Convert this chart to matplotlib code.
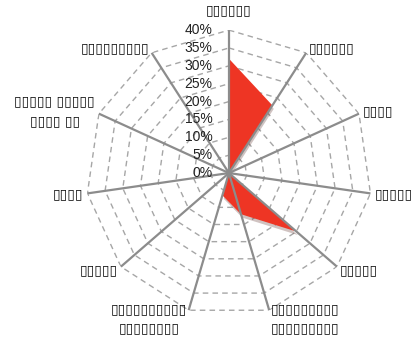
import matplotlib
matplotlib.use('Agg')
import matplotlib.pyplot as plt
import matplotlib.patheffects as pe
import numpy as np

# the category names show up only as placeholder boxes in the reference
categories = ['▯▯▯▯▯▯', '▯▯▯▯▯▯', '▯▯▯▯', '▯▯▯▯▯▯', '▯▯▯▯▯',
              '▯▯▯▯▯▯▯▯▯\n▯▯▯▯▯▯▯▯▯', '▯▯▯▯▯▯▯▯▯▯\n▯▯▯▯▯▯▯▯',
              '▯▯▯▯▯', '▯▯▯▯', '▯▯▯▯▯ ▯▯▯▯▯\n▯▯▯▯ ▯▯', '▯▯▯▯▯▯▯▯▯']
values = [32, 22.5, 0, 0, 25, 12, 6.5, 0, 0, 0, 0]
ticks = [0, 5, 10, 15, 20, 25, 30, 35, 40]
tick_labels = ['0%', '5%', '10%', '15%', '20%', '25%', '30%', '35%', '40%']

plt.rcParams['font.family'] = ['Liberation Sans', 'DejaVu Sans']

n = len(categories)
angles = np.linspace(0, 2 * np.pi, n, endpoint=False)
closed = np.append(angles, angles[0])

fig = plt.figure(figsize=(4.11, 3.38), dpi=100)
ax = fig.add_axes([0.209, 0.065, 0.696, 0.846], projection='polar')
ax.set_theta_zero_location('N')
ax.set_theta_direction(-1)
ax.set_ylim(0, ticks[-1])
ax.axis('off')

# dashed polygon grid
for t in ticks[1:]:
    ax.plot(closed, [t] * (n + 1), color='#a6a6a6', lw=1, ls=(0, (4, 3)), zorder=1)

# data area with a soft shadow
poly = ax.fill(closed, np.append(values, values[0]), color='#ee3524', lw=0, zorder=2)[0]
poly.set_path_effects([pe.SimplePatchShadow(offset=(1, -2.5), alpha=0.25), pe.Normal()])

# spokes
for a in angles:
    ax.plot([a, a], [0, ticks[-1]], color='#8c8c8c', lw=1.6, zorder=3)

# radial tick labels left of the top spoke
for t, lbl in zip(ticks, tick_labels):
    ax.annotate(lbl, xy=(0, t), xytext=(-12, 0), textcoords='offset points',
                ha='right', va='center', fontsize=10, color='#222222', zorder=4)

# category labels
for a, lbl in zip(angles, categories):
    s, c = np.sin(a), np.cos(a)
    if abs(s) < 0.1:
        ha = 'center'
    elif s > 0:
        ha = 'left'
    else:
        ha = 'right'
    dx, dy = 3 * s, 4 * c
    if abs(s) < 0.1:
        dy = 14
    if c < -0.8:
        dy = -6
    ax.annotate(lbl, xy=(a, ticks[-1]), xytext=(dx, dy), textcoords='offset points',
                ha=ha, va='center', multialignment='center', fontsize=10,
                linespacing=1.5, family=['DejaVu Sans'], color='#111111',
                annotation_clip=False)

fig.savefig('out.png', dpi=100)
